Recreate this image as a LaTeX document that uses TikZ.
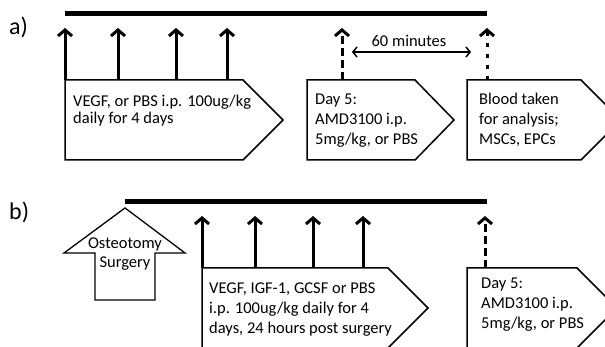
\documentclass[tikz,border=0pt]{standalone}
\usepackage{fontspec}
\setmainfont{Carlito}
\usetikzlibrary{arrows.meta}
\begin{document}
\begin{tikzpicture}[x=1pt,y=-1pt,
  timeline/.style={line width=5pt},
  outline/.style={line width=1.5pt, line join=miter},
  evt/.style={line width=3pt,-{Straight Barb[length=6pt,width=14pt]}},
  evtdash/.style={evt,dash pattern=on 8pt off 4pt},
  evtdot/.style={evt,dash pattern=on 4pt off 7pt},
  lbl/.style={inner sep=0pt,anchor=north west,align=left,font=\fontsize{16.5}{20}\selectfont},
  panel/.style={inner sep=0pt,anchor=base west,font=\fontsize{24}{28}\selectfont},
  span/.style={line width=1.5pt,{Straight Barb[length=4pt,width=10pt]}-{Straight Barb[length=4pt,width=10pt]}}
]
\useasboundingbox (0,0) rectangle (605,347);
\clip (0,0) rectangle (605,347);

% ---------- panel a ----------
\node[panel] (la) at (9,35) {a)};
\coordinate (a0) at (65,14);
\coordinate (aE) at (487,14);
\draw[timeline] (a0) -- (aE);

\draw[outline] (65,80) -- (243,80) -- (283,120) -- (243,160) -- (65,160) -- cycle;
\draw[outline] (307,80) -- (415,80) -- (454,120) -- (415,160) -- (307,160) -- cycle;
\draw[outline] (467,80) -- (581,80) -- (621,120) -- (581,160) -- (467,160) -- cycle;

\node[lbl,font=\fontsize{16.5}{17}\selectfont] (ta1) at (73,92) {\rule{0pt}{14pt}VEGF, or PBS i.p. 100ug/kg\\daily for 4 days};
\node[lbl] (ta2) at (315,90) {\rule{0pt}{14pt}Day 5:\\AMD3100 i.p.\\5mg/kg, or PBS};
\node[lbl] (ta3) at (479,90) {\rule{0pt}{14pt}Blood taken\\for analysis;\\MSCs, EPCs};

\foreach \x/\n in {65/1,118/2,176/3,227/4}{
  \coordinate (ab\n) at (\x,80);
  \coordinate (at\n) at (\x,28);
  \draw[evt] (ab\n) -- (at\n);
}
\coordinate (ab5) at (342,80); \coordinate (at5) at (342,28);
\draw[evtdash] (ab5) -- (at5);
\coordinate (ab6) at (487,80); \coordinate (at6) at (487,28);
\draw[evtdot] (ab6) -- (at6);

\node[inner sep=0pt,anchor=base,font=\fontsize{16.5}{20}\selectfont] (tmin) at (409,47) {60 minutes};
\coordinate (m1) at (352,52); \coordinate (m2) at (471,52);
\draw[span] (m1) -- (m2);

% ---------- panel b ----------
\node[panel] (lb) at (9,220) {b)};
\coordinate (b0) at (125,202);
\coordinate (bE) at (487,202);
\draw[timeline] (b0) -- (bE);

\draw[outline,line width=1.3pt] (125,208) -- (185,253) -- (155,253) -- (155,300) -- (95,300) -- (95,253) -- (64,253) -- cycle;
\node[inner sep=0pt,anchor=north,align=center,font=\fontsize{16.5}{19.5}\selectfont] (tost) at (125,234) {\rule{0pt}{14pt}Osteotomy\\Surgery};

\draw[outline] (202,268) -- (388,268) -- (428,308) -- (388,348) -- (202,348) -- cycle;
\draw[outline] (467,268) -- (577,268) -- (617,308) -- (577,348) -- (467,348) -- cycle;

\node[lbl] (tb1) at (209,279) {\rule{0pt}{14pt}VEGF, IGF-1, GCSF or PBS\\i.p. 100ug/kg daily for 4\\days, 24 hours post surgery};
\node[lbl] (tb2) at (481,274) {\rule{0pt}{14pt}Day 5:\\AMD3100 i.p.\\5mg/kg, or PBS};

\foreach \x/\n in {202/1,255/2,313/3,363/4}{
  \coordinate (bb\n) at (\x,268);
  \coordinate (bt\n) at (\x,216);
  \draw[evt] (bb\n) -- (bt\n);
}
\coordinate (bb5) at (485,268); \coordinate (bt5) at (485,216);
\draw[evtdash] (bb5) -- (bt5);
\end{tikzpicture}
\end{document}
